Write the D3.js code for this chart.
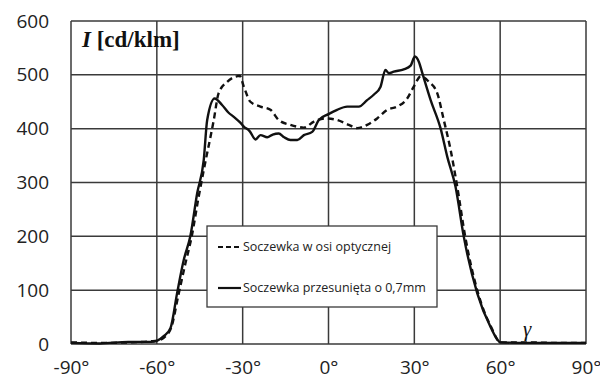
<!DOCTYPE html>
<html>
<head>
<meta charset="utf-8">
<script src="https://cdn.jsdelivr.net/npm/d3@7"></script>
<style>
  body { margin: 0; background: #fff; }
  svg { display: block; }
</style>
</head>
<body>
<div id="chart"></div>
<script>
// values (angle in degrees, intensity in cd/klm)
var anglesAxis = [-90, -60, -30, 0, 30, 60, 90];
var valueTicks = [0, 100, 200, 300, 400, 500, 600];

var seriesNames = ["Soczewka w osi optycznej", "Soczewka przesunięta o 0,7mm"];

var axisAngles = [-90, -80, -70, -62, -60, -57.5, -55, -52.5, -50, -47.8, -45.5, -43.6, -40.1, -38.4, -35.4, -31, -29.6,
  -27.3, -23.8, -20.3, -17.4, -13.3, -8.6, -5.1, -1, 3, 7.1, 10, 13.5, 17, 20.5, 24, 27.5, 29.8, 32.2, 35.1,
  38, 40.3, 42.7, 45, 47.8, 52.3, 56.8, 60.2, 70, 80, 90];
var axisValues = [3, 2, 3, 5, 6, 12, 30, 90, 150, 200, 270, 323, 416, 466, 487, 498, 478,
  450, 441, 435, 416, 407, 402, 413, 419, 416, 407, 401, 407, 419, 435, 441, 456, 478, 497, 487,
  466, 416, 360, 292, 199, 94, 32, 3, 3, 2, 2];

var shiftAngles = [-90, -80, -70, -62, -60, -57.5, -55.2, -52.9, -50.6, -48.3, -45.9, -43.6, -42.4, -39.8, -37.2, -35,
  -33.1, -31, -29.6, -27.5, -25.5, -23.8, -21.4, -19.5, -17.4, -15.5, -13.3, -10.9, -8.6, -5.7, -3.4, 0, 3,
  6.5, 10.6, 13.5, 15.8, 18.2, 19.9, 21.1, 22.8, 26.3, 28.7, 30.2, 31.6, 32.8, 35.7, 39.2, 41.5, 44.4,
  47.3, 52, 56.6, 60.1, 70, 80, 90];
var shiftValues = [2, 1, 4, 4, 6, 15, 30, 95, 156, 200, 280, 342, 416, 456, 444, 430,
  422, 412, 404, 395, 380, 388, 384, 389, 391, 384, 379, 379, 388, 394, 416, 427, 435,
  441, 441, 453, 463, 478, 509, 503, 506, 510, 517, 534, 524, 503, 453, 400, 348, 292,
  199, 94, 32, 3, 2, 2, 2];

var margin = {top: 21, right: 14, bottom: 41, left: 71},
    width = 600 - margin.left - margin.right,
    height = 385 - margin.top - margin.bottom;

var svg = d3.select("#chart").append("svg")
    .attr("width", 600)
    .attr("height", 385)
    .append("g")
    .attr("transform", "translate(" + margin.left + "," + margin.top + ")");

var x = d3.scaleLinear().domain([-90, 90]).range([0, width]);
var y = d3.scaleLinear().domain([0, 600]).range([height, 0]);

// grid
svg.append("g")
    .selectAll("line.v")
    .data(anglesAxis)
    .enter().append("line")
    .attr("x1", function(d) { return x(d); })
    .attr("x2", function(d) { return x(d); })
    .attr("y1", 0).attr("y2", height)
    .attr("stroke", "#3a3a3a").attr("stroke-width", 1.5);
svg.append("g")
    .selectAll("line.h")
    .data(valueTicks)
    .enter().append("line")
    .attr("x1", 0).attr("x2", width)
    .attr("y1", function(d) { return y(d); })
    .attr("y2", function(d) { return y(d); })
    .attr("stroke", "#3a3a3a").attr("stroke-width", 1.5);

// axes (labels only)
var xAxis = svg.append("g")
    .attr("transform", "translate(0," + height + ")")
    .call(d3.axisBottom(x).tickValues(anglesAxis).tickSize(0).tickPadding(17)
        .tickFormat(function(d) { return d + "°"; }));
var yAxis = svg.append("g")
    .call(d3.axisLeft(y).tickValues(valueTicks).tickSize(0).tickPadding(22));
[xAxis, yAxis].forEach(function(a) {
    a.select(".domain").remove();
    a.selectAll("text")
        .style("font-family", "'Open Sans', sans-serif")
        .style("font-size", "19px")
        .attr("fill", "#222");
});

// curves
var line = d3.line()
    .curve(d3.curveMonotoneX)
    .x(function(d) { return x(d[0]); })
    .y(function(d) { return y(d[1]); });

var axisData = d3.zip(axisAngles, axisValues);
var shiftData = d3.zip(shiftAngles, shiftValues);

svg.append("path")
    .datum(axisData)
    .attr("d", line)
    .attr("fill", "none")
    .attr("stroke", "#111")
    .attr("stroke-width", 2.4)
    .attr("stroke-dasharray", "6,4");

svg.append("path")
    .datum(shiftData)
    .attr("d", line)
    .attr("fill", "none")
    .attr("stroke", "#111")
    .attr("stroke-width", 2.4);

// axis titles
var title = svg.append("text")
    .attr("x", 11)
    .attr("y", 25.5)
    .style("font-family", "'Liberation Serif', 'Times New Roman', serif")
    .style("font-size", "23px")
    .style("font-weight", "bold")
    .attr("fill", "#111");
title.append("tspan").style("font-style", "italic").text("I");
title.append("tspan").text(" [cd/klm]");

svg.append("text")
    .attr("x", x(68))
    .attr("y", height - 8)
    .style("font-family", "'Liberation Serif', 'Times New Roman', serif")
    .style("font-size", "21px")
    .style("font-style", "italic")
    .attr("fill", "#111")
    .text("γ");

// legend
var legend = svg.append("g")
    .attr("transform", "translate(" + (207 - margin.left) + "," + (226 - margin.top) + ")");
legend.append("rect")
    .attr("width", 230).attr("height", 81)
    .attr("fill", "#fff")
    .attr("stroke", "#3a3a3a").attr("stroke-width", 1.3);

var legendRows = legend.selectAll("g.row")
    .data(seriesNames)
    .enter().append("g")
    .attr("transform", function(d, i) { return "translate(11," + (21 + i * 41) + ")"; });
legendRows.append("line")
    .attr("x1", 0).attr("x2", 23)
    .attr("stroke", "#111").attr("stroke-width", 2.2)
    .attr("stroke-dasharray", function(d, i) { return i == 0 ? "5,3" : null; });
legendRows.append("text")
    .attr("x", 25)
    .attr("dy", "0.35em")
    .style("font-family", "'Open Sans', sans-serif")
    .style("font-size", "12.5px")
    .attr("fill", "#222")
    .text(function(d) { return d; });
</script>
</body>
</html>
